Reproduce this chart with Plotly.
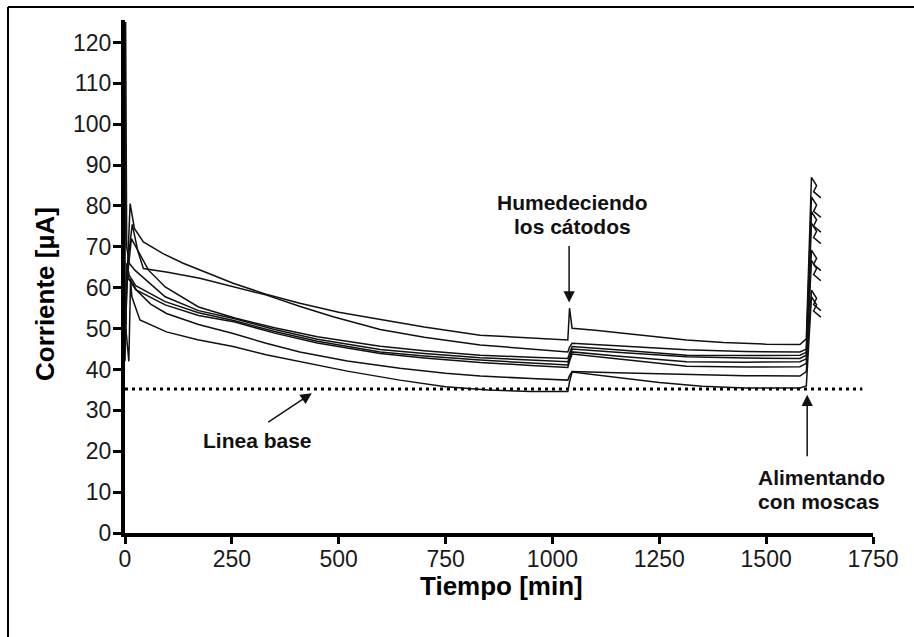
import plotly.graph_objects as go

# ---- data (time in min, current in µA) ----
a_t = [0, 4, 12, 22, 43, 90, 136, 200, 253, 330, 409, 500, 597, 700, 831, 950, 1036, 1040, 1046, 1100, 1200, 1314, 1400, 1500, 1579, 1594, 1606, 1618, 1611, 1628]
a_v = [42, 60, 80.6, 74.5, 71.2, 68.3, 66.0, 63.4, 61.1, 58.4, 56.2, 54.0, 52.3, 50.4, 48.4, 47.6, 47.2, 55.0, 50.1, 49.6, 48.4, 47.2, 46.6, 46.2, 46.1, 47.5, 87.0, 85.0, 83.5, 82.0]

b_t = [0, 5, 17, 30, 43, 100, 175, 250, 331, 410, 487, 597, 700, 831, 950, 1036, 1040, 1046, 1150, 1314, 1450, 1579, 1594, 1606, 1618, 1611, 1628]
b_v = [48, 65, 75.5, 69, 64.7, 63.8, 62.3, 60.3, 58.2, 55.4, 52.9, 49.8, 47.9, 46.0, 45.0, 44.3, 45.5, 46.4, 45.8, 44.8, 44.4, 44.3, 45.0, 82.2, 80.2, 78.7, 77.2]

c_t = [0, 5, 15, 30, 55, 94, 172, 257, 350, 450, 597, 700, 831, 950, 1036, 1040, 1046, 1150, 1314, 1450, 1579, 1594, 1606, 1618, 1611, 1628]
c_v = [45, 62, 72, 69, 64.3, 60.2, 55.3, 52.6, 50.2, 48.0, 45.7, 44.6, 43.5, 43.0, 42.7, 44.0, 45.6, 44.8, 43.5, 43.4, 43.5, 44.2, 78.6, 76.6, 75.1, 73.6]

d_t = [0, 1.5, 4, 10, 23, 94, 172, 257, 350, 450, 597, 700, 831, 950, 1036, 1040, 1046, 1150, 1314, 1450, 1579, 1594, 1606, 1618, 1611, 1628]
d_v = [60, 125, 70, 66, 64.3, 57.8, 54.4, 52.4, 49.8, 47.4, 44.9, 43.9, 42.9, 42.3, 41.9, 43.0, 45.0, 44.2, 43.1, 42.8, 42.7, 43.5, 75.8, 73.8, 72.3, 70.8]

e_t = [0, 4, 10, 25, 94, 172, 257, 350, 450, 597, 700, 831, 950, 1036, 1040, 1046, 1150, 1314, 1450, 1579, 1594, 1606, 1618, 1611, 1628]
e_v = [50, 66, 63, 60.5, 56.6, 53.9, 51.9, 49.3, 46.9, 44.3, 43.3, 42.3, 41.6, 41.1, 42.5, 44.3, 43.3, 41.9, 41.8, 41.9, 42.6, 69.2, 67.2, 65.7, 64.2]

f_t = [0, 4, 10, 25, 94, 172, 257, 350, 450, 597, 700, 831, 950, 1036, 1040, 1046, 1150, 1314, 1450, 1579, 1594, 1606, 1618, 1611, 1628]
f_v = [47, 64, 62, 59.5, 55.8, 53.2, 51.6, 48.9, 46.5, 43.9, 42.8, 41.7, 41.0, 40.5, 42.0, 43.8, 42.6, 40.8, 40.6, 40.7, 41.5, 66.7, 64.7, 63.2, 61.7]

g_t = [0, 4, 12, 27, 60, 97, 172, 253, 330, 409, 520, 643, 750, 831, 950, 1036, 1040, 1046, 1150, 1314, 1450, 1579, 1594, 1606, 1618, 1611, 1628]
g_v = [46, 62, 62, 59.4, 56.0, 53.7, 51.0, 48.8, 46.4, 44.3, 42.1, 40.3, 39.1, 38.4, 37.8, 37.4, 38.5, 39.5, 39.2, 38.8, 38.5, 38.4, 39.5, 59.4, 57.4, 55.9, 54.4]

h_t = [2, 9, 13, 16, 35, 97, 170, 253, 330, 409, 520, 643, 750, 850, 950, 1036, 1040, 1046, 1150, 1250, 1350, 1450, 1579, 1594, 1606, 1618, 1611, 1628]
h_v = [50, 42, 62, 57.8, 52.1, 49.2, 47.3, 45.6, 43.6, 41.9, 39.6, 37.4, 35.8, 35.0, 34.6, 34.6, 37.0, 39.4, 38.0, 36.8, 35.9, 35.5, 35.5, 36.0, 57.8, 55.8, 54.3, 52.8]

baseline_t = [0, 1725]
baseline_v = [35.2, 35.2]

x_ticks = [0, 250, 500, 750, 1000, 1250, 1500, 1750]
y_ticks = [0, 10, 20, 30, 40, 50, 60, 70, 80, 90, 100, 110, 120]

x_title = "Tiempo [min]"
y_title = "Corriente [µA]"

curves = [(a_t, a_v), (b_t, b_v), (c_t, c_v), (d_t, d_v),
          (e_t, e_v), (f_t, f_v), (g_t, g_v), (h_t, h_v)]

FONT = "Liberation Sans, Arial, sans-serif"

fig = go.Figure()
fig.add_trace(go.Scatter(x=baseline_t, y=baseline_v, mode="lines",
                         line=dict(color="black", width=3, dash="3px,4px"),
                         showlegend=False, hoverinfo="skip"))
for t, v in curves:
    fig.add_trace(go.Scatter(x=t, y=v, mode="lines",
                             line=dict(color="#111111", width=1.5),
                             showlegend=False))

axis_common = dict(showgrid=False, zeroline=False, showline=True,
                   linecolor="black", linewidth=4, ticks="outside",
                   tickwidth=3, tickcolor="black",
                   tickfont=dict(family=FONT, size=23, color="#1a1a1a"))

fig.update_xaxes(range=[0, 1750], tickvals=x_ticks, ticktext=[str(v) for v in x_ticks],
                 ticklen=7, ticklabelstandoff=-5, **axis_common)
fig.update_yaxes(range=[0, 125.5], tickvals=y_ticks, ticktext=[str(v) for v in y_ticks],
                 ticklen=8, ticklabelstandoff=-3, **axis_common)

title_font = dict(family=FONT, size=26, color="black")
ann_font = dict(family=FONT, size=21, color="#111111")
arrow_style = dict(arrowhead=2, arrowsize=1.5, arrowwidth=1.5, arrowcolor="#111111")
annotations = [
    # axis titles
    dict(x=(501 - 125) / 748, y=(533 - 586) / 513, xref="paper", yref="paper",
         text="<b>" + x_title + "</b>", showarrow=False, xanchor="center", yanchor="middle",
         font=title_font),
    dict(x=(45 - 125) / 748, y=(533 - 294) / 513, xref="paper", yref="paper",
         text="<b>" + y_title + "</b>", showarrow=False, xanchor="center", yanchor="middle",
         textangle=-90, font=title_font),
    # arrows
    dict(x=437, y=34.2, xref="x", yref="y", text="", showarrow=True, ax=-45, ay=30, **arrow_style),
    dict(x=1039, y=56.4, xref="x", yref="y", text="", showarrow=True, ax=0, ay=-58, **arrow_style),
    dict(x=1596, y=33.8, xref="x", yref="y", text="", showarrow=True, ax=0, ay=63, **arrow_style),
    # labels
    dict(x=311, y=22.7, xref="x", yref="y", text="<b>Linea base</b>", showarrow=False,
         xanchor="center", yanchor="middle", font=ann_font),
    dict(x=1047, y=80.9, xref="x", yref="y", text="<b>Humedeciendo</b>", showarrow=False,
         xanchor="center", yanchor="middle", font=ann_font),
    dict(x=1047, y=75.0, xref="x", yref="y", text="<b>los cátodos</b>", showarrow=False,
         xanchor="center", yanchor="middle", font=ann_font),
    dict(x=1476, y=13.7, xref="x", yref="y", text="<b>Alimentando</b>", showarrow=False,
         xanchor="left", yanchor="middle", font=ann_font),
    dict(x=1476, y=7.6, xref="x", yref="y", text="<b>con moscas</b>", showarrow=False,
         xanchor="left", yanchor="middle", font=ann_font),
]

# outer frame (only top and left edges fall inside the picture)
shapes = [
    dict(type="line", xref="paper", yref="paper", x0=(8 - 125) / 748, x1=1.2,
         y0=(533 - 7) / 513, y1=(533 - 7) / 513, line=dict(color="black", width=2)),
    dict(type="line", xref="paper", yref="paper", x0=(8 - 125) / 748, x1=(8 - 125) / 748,
         y0=(533 - 7) / 513, y1=-0.3, line=dict(color="black", width=2)),
]

fig.update_layout(width=914, height=637, template="none",
                  paper_bgcolor="white", plot_bgcolor="white",
                  margin=dict(l=125, r=41, t=20, b=104, autoexpand=False),
                  annotations=annotations, shapes=shapes, showlegend=False)

fig.write_html("out.html", config={"displayModeBar": False},
               post_script="document.body.style.margin='0';")
